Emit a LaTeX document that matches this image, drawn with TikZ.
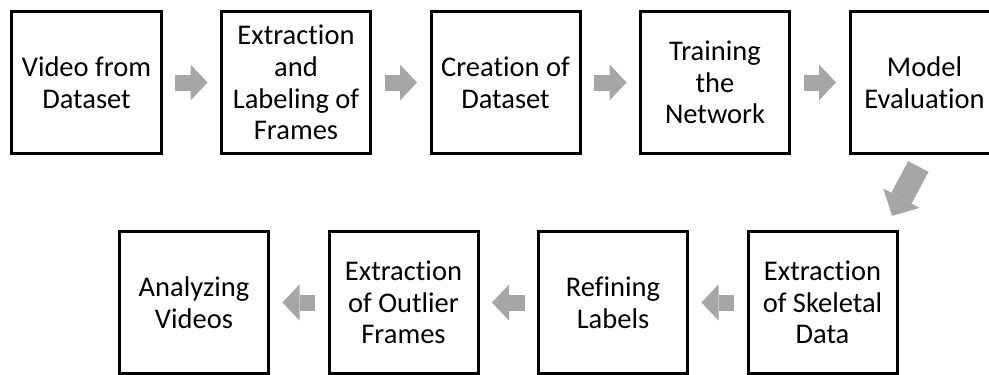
\documentclass[tikz,border=0pt]{standalone}
\usepackage{fontspec}
\setmainfont{Carlito}[Ligatures=NoCommon]
\usetikzlibrary{arrows.meta, positioning, calc}
\definecolor{arrowgray}{RGB}{166,166,166}

\begin{document}
\begin{tikzpicture}[node distance=57.5pt,
    stepbox/.style={rectangle, draw=black, fill=white, line width=3pt, minimum width=149pt, minimum height=142pt, inner sep=0pt, align=center, font=\fontsize{28.5}{31.7}\selectfont},
    flow/.style={draw=arrowgray, line width=16pt, -{Triangle[length=17pt, width=36pt, line width=0pt]}, shorten <=12.5pt, shorten >=12.5pt},
    bigflow/.style={draw=arrowgray, line width=23pt, -{Triangle[length=20pt, width=41pt, line width=0pt]}, shorten <=13pt, shorten >=16pt}]

    \useasboundingbox[fill=white] (-86.5pt,82.5pt) rectangle (902.5pt,-292.5pt);

    % top row, left to right
    \node [stepbox] (video) {Video from\\Dataset};
    \node [stepbox, right=of video] (extract) {Extraction\\and\\Labeling of\\Frames};
    \node [stepbox, right=of extract] (create) {Creation of\\Dataset};
    \node [stepbox, right=of create] (train) {Training\\the\\Network};
    \node [stepbox, right=of train] (model) {Model\\Evaluation};

    % bottom row, right to left
    \node [stepbox, below=75pt of model, xshift=-102pt] (skeletal) {Extraction\\of Skeletal\\Data};
    \node [stepbox, left=of skeletal] (refine) {Refining\\Labels};
    \node [stepbox, left=of refine] (outlier) {Extraction\\of Outlier\\Frames};
    \node [stepbox, left=of outlier] (analyze) {Analyzing\\Videos};

    \path [flow] (video) -- (extract);
    \path [flow] (extract) -- (create);
    \path [flow] (create) -- (train);
    \path [flow] (train) -- (model);
    \path [bigflow] (model.south) -- ($(skeletal.north)+(62pt,0)$);
    \path [flow] (skeletal) -- (refine);
    \path [flow] (refine) -- (outlier);
    \path [flow] (outlier) -- (analyze);
\end{tikzpicture}
\end{document}
